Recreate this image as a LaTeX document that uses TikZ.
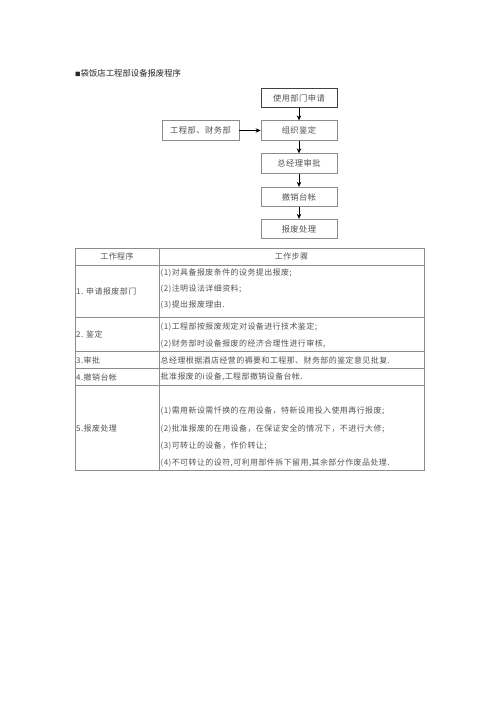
\documentclass[tikz,border=0pt]{standalone}
\usepackage{fontspec}
\newfontfamily\cjk{Noto Sans CJK SC}
\newfontfamily\cjksp[LetterSpace=5.5]{Noto Sans CJK SC}
\usetikzlibrary{arrows.meta}
\definecolor{boxgray}{gray}{0.55}
\definecolor{darkbox}{gray}{0.25}
\definecolor{txtgray}{gray}{0.32}
\definecolor{linegray}{gray}{0.55}
\begin{document}
\begin{tikzpicture}[x=1bp,y=-1bp,
  box/.style={draw=boxgray, line width=0.8bp, minimum width=76bp, minimum height=19.5bp, inner sep=0pt, font=\cjksp\fontsize{8.3}{10}\selectfont, text=txtgray},
  arr/.style={-{Stealth[length=5bp,width=4.5bp]}, line width=0.8bp, black},
  cell/.style={anchor=west, inner sep=0pt, font=\cjksp\fontsize{8}{10}\selectfont, text=txtgray},
  head/.style={inner sep=0pt, font=\cjksp\fontsize{8}{10}\selectfont, text=txtgray},
  rule/.style={draw=linegray, line width=0.7bp}]
\useasboundingbox (0,0) rectangle (500,707);
% title
\node[anchor=west, inner sep=0pt, font=\cjk\fontsize{8.4}{10}\selectfont, text=black!85] (title) at (75,73) {{\fontsize{5.5}{6}\selectfont ■}袋饭店工程部设备报废程序};
% flowchart
\node[box, draw=darkbox] (b1) at (299,98) {使用部门申请};
\node[box] (b2) at (299,130.5) {组织鉴定};
\node[box] (b3) at (299,163.5) {总经理审批};
\node[box] (b4) at (299,197) {撤销台帐};
\node[box] (b5) at (299,229) {报废处理};
\node[box, minimum width=77bp] (lb) at (200.5,130.5) {工程部、财务部};
\draw[arr] (b1) -- (b2);
\draw[arr] (b2) -- (b3);
\draw[arr] (b3) -- (b4);
\draw[arr] (b4) -- (b5);
\draw[arr] (lb) -- (b2);
% table lines
\draw[rule] (75,248) rectangle (424,470);
\draw[rule] (159,248) -- (159,470);
\foreach \yy in {265,317,351,368,385} \draw[rule] (75,\yy) -- (424,\yy);
% header
\node[head] (h1) at (117,256.5) {工作程序};
\node[head] (h2) at (291.5,256.5) {工作步骤};
% column 1
\node[cell] (c1) at (76,291) {1. 申请报废部门};
\node[cell] (c2) at (76,334) {2. 鉴定};
\node[cell] (c3) at (76,360) {3.审批};
\node[cell] (c4) at (76,377) {4.撤销台帐};
\node[cell] (c5) at (76,428) {5.报废处理};
% column 2
\node[cell] (r11) at (160.5,273) {(1)对具备报废条件的设务提出报废;};
\node[cell] (r12) at (160.5,289) {(2)注明设法详细资料;};
\node[cell] (r13) at (160.5,305) {(3)提出报废理由.};
\node[cell] (r21) at (160.5,327) {(1)工程部按报废规定对设备进行技术鉴定;};
\node[cell] (r22) at (160.5,344) {(2)财务部时设备报废的经济合理性进行审核,};
\node[cell] (r3) at (160.5,360) {总经理根据酒店经营的褥要和工程那、财务部的鉴定意见批复.};
\node[cell] (r4) at (160.5,377) {批准报废的i设备,工程部撤销设备台帐.};
\node[cell] (r51) at (160.5,411) {(1)需用新设需忏换的在用设备，特新设用投入使用再行报废;};
\node[cell] (r52) at (160.5,428.5) {(2)批准报废的在用设备，在保证安全的情况下，不进行大修;};
\node[cell] (r53) at (160.5,446) {(3)可转让的设备，作价转让;};
\node[cell] (r54) at (160.5,463) {(4)不可转让的设符,可利用部件拆下留用,其余部分作废品处理.};
\end{tikzpicture}
\end{document}
